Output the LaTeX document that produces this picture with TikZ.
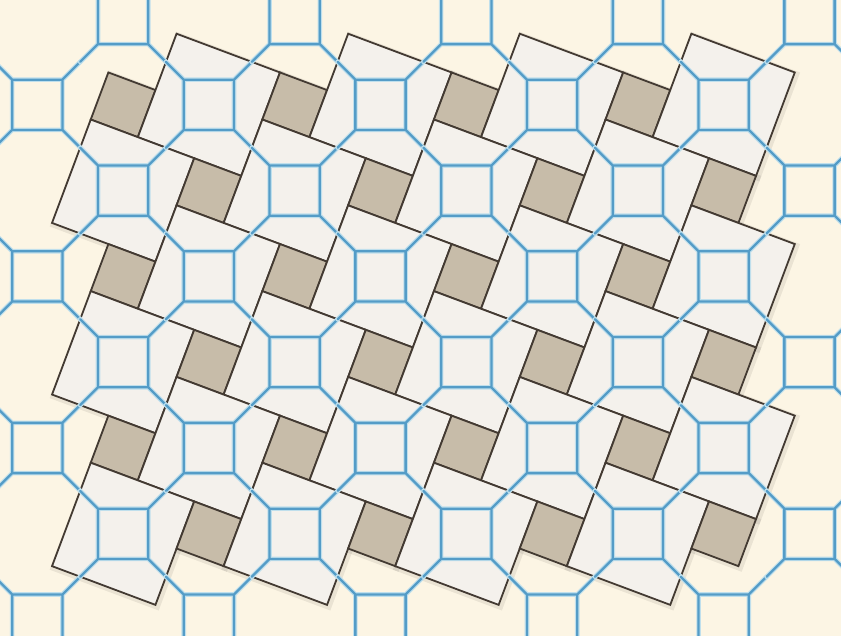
\documentclass[tikz,border=0pt]{standalone}
\usepackage{tikz}
\definecolor{FloorCream}{HTML}{FCF5E4}
\definecolor{TileLight}{HTML}{F4F1EC}
\definecolor{TileTan}{HTML}{C7BCA9}
\definecolor{TileEdge}{HTML}{433A32}
\definecolor{GridBlue}{HTML}{549CC7}
\definecolor{GridGlow}{HTML}{BFDFEC}

\begin{document}
\begin{tikzpicture}[
  x=1pt, y=-1pt,
  bigtile/.style={fill=TileLight, draw=TileEdge, line width=1.8pt},
  smalltile/.style={fill=TileTan, draw=TileEdge, line width=1.8pt},
  tileshade/.style={draw=black, opacity=0.07, line width=6pt},
  gridline/.style={draw=GridBlue, line width=2.3pt, line cap=round,
    preaction={draw=GridGlow, line width=4.6pt, line cap=round}}
]
  \pgfmathsetmacro{\pstep}{85.8}
  \pgfmathsetmacro{\sh}{\pstep/(1+sqrt(2)/2)/2}
  \pgfmathsetmacro{\bh}{\pstep*(cos(20.53)+sin(20.53))/2}
  \pgfmathsetmacro{\hp}{\pstep/2}

  \useasboundingbox (0,0) rectangle (841,636);
  \clip (0,0) rectangle (841,636);
  \fill[FloorCream] (0,0) rectangle (841,636);

  % soft shadow under the floor
  \foreach \j in {0,...,5}{
    \foreach \i in {1,...,8}{
      \pgfmathsetmacro{\cx}{38.8+\i*\pstep}
      \pgfmathsetmacro{\cy}{106.6+\j*\pstep}
      \pgfmathtruncatemacro{\kind}{mod(\i+\j,2)}
      \ifnum\kind=0
        \draw[tileshade, shift={(\cx,\cy)}, rotate=-20.53] (-\bh,-\bh) rectangle (\bh,\bh);
      \else
        \draw[tileshade, shift={(\cx,\cy)}, rotate=-20.53] (-\sh,-\sh) rectangle (\sh,\sh);
      \fi
    }
  }

  % pythagorean floor
  \foreach \j in {0,...,5}{
    \foreach \i in {1,...,8}{
      \pgfmathsetmacro{\cx}{37.3+\i*\pstep}
      \pgfmathsetmacro{\cy}{104.8+\j*\pstep}
      \pgfmathtruncatemacro{\kind}{mod(\i+\j,2)}
      \ifnum\kind=0
        \draw[bigtile, shift={(\cx,\cy)}, rotate=-20.53] (-\bh,-\bh) rectangle (\bh,\bh);
      \else
        \draw[smalltile, shift={(\cx,\cy)}, rotate=-20.53] (-\sh,-\sh) rectangle (\sh,\sh);
      \fi
    }
  }

  % octagon grid on top
  \foreach \i in {-1,...,10}{
    \foreach \j in {-2,...,7}{
      \pgfmathtruncatemacro{\kind}{mod(\i+\j,2)}
      \ifnum\kind=0
        \pgfmathsetmacro{\cx}{37.3+\i*\pstep}
        \pgfmathsetmacro{\cy}{104.8+\j*\pstep}
        \draw[gridline, shift={(\cx,\cy)}] (-\sh,-\sh) rectangle (\sh,\sh)
          (\sh,\sh) -- (\hp,\hp) (-\sh,\sh) -- (-\hp,\hp)
          (\sh,-\sh) -- (\hp,-\hp) (-\sh,-\sh) -- (-\hp,-\hp);
      \fi
    }
  }
\end{tikzpicture}
\end{document}
